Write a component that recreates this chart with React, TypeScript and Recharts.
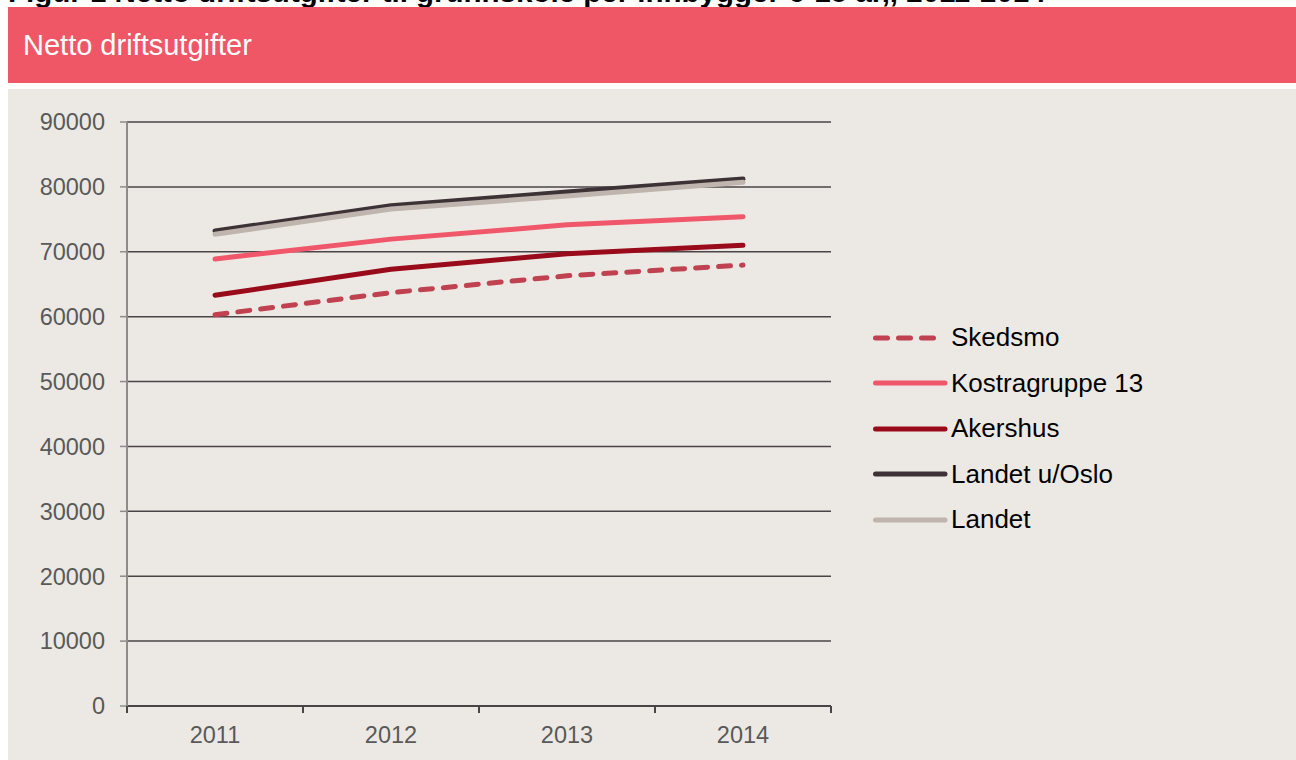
import { CartesianGrid, Line, LineChart, XAxis, YAxis } from "recharts";

const years = ["2011", "2012", "2013", "2014"];
const skedsmo = [60300, 63700, 66300, 67950];
const kostragruppe13 = [68900, 71950, 74150, 75400];
const akershus = [63300, 67300, 69700, 71000];
const landetUtenOslo = [73200, 77100, 79200, 81200];
const landet = [72700, 76600, 78600, 80700];
const yTicks = [0, 10000, 20000, 30000, 40000, 50000, 60000, 70000, 80000, 90000];

const FONT = '"Liberation Sans", Arial, Helvetica, sans-serif';
const GRID = "#4b4446";
const BAND_PAD = 88;

const series = [
  { key: "Skedsmo", values: skedsmo, color: "#c0414f", dash: "12 11" },
  { key: "Kostragruppe 13", values: kostragruppe13, color: "#f0576a" },
  { key: "Akershus", values: akershus, color: "#990a1b" },
  { key: "Landet u/Oslo", values: landetUtenOslo, color: "#3d3236" },
  { key: "Landet", values: landet, color: "#bfb4ae" },
];

const data = years.map((year, i) => {
  const row: Record<string, string | number> = { year };
  series.forEach((s) => {
    row[s.key] = s.values[i];
  });
  return row;
});

function YearTick(props: any) {
  const { x, y, payload, index } = props;
  const last = index === years.length - 1;
  return (
    <g>
      <line x1={x - BAND_PAD} y1={y} x2={x - BAND_PAD} y2={y + 7} stroke={GRID} strokeWidth={2} />
      {last && <line x1={x + BAND_PAD} y1={y} x2={x + BAND_PAD} y2={y + 7} stroke={GRID} strokeWidth={2} />}
      <text x={x} y={y + 37} textAnchor="middle" fill="#595959" fontSize={23.5} fontFamily={FONT}>
        {payload.value}
      </text>
    </g>
  );
}

// legend sits beside the plot, outside the chart so it doesn't shrink the plot area
function LegendBox() {
  return (
    <div style={{ position: "absolute", left: 865, top: 226, fontFamily: FONT }}>
      {series.map((s) => (
        <div key={s.key} style={{ display: "flex", alignItems: "center", height: 45.5 }}>
          <svg width={78} height={12} style={{ display: "block" }}>
            <line
              x1={2.5}
              y1={6}
              x2={s.dash ? 60.5 : 72}
              y2={6}
              stroke={s.color}
              strokeWidth={5}
              strokeLinecap="round"
              strokeDasharray={s.dash}
            />
          </svg>
          <span style={{ fontSize: 26, color: "#000", whiteSpace: "nowrap" }}>{s.key}</span>
        </div>
      ))}
    </div>
  );
}

export default function App() {
  return (
    <div
      style={{
        position: "fixed",
        left: 0,
        top: 0,
        width: 1296,
        height: 760,
        background: "#fff",
        overflow: "hidden",
        fontFamily: FONT,
      }}
    >
      <svg width={1296} height={8} style={{ position: "absolute", left: 0, top: 0 }}>
        <text x={8} y={2} fontSize={29.5} fontWeight={700} fill="#000" fontFamily={FONT}>
          Figur 1 Netto driftsutgifter til grunnskole per innbygger 6-15 år,, 2011-2014
        </text>
      </svg>
      <div style={{ position: "absolute", left: 8, top: 7, width: 1288, height: 76, background: "#f05766" }}>
        <svg width={1288} height={76} style={{ display: "block" }}>
          <text x={15} y={48} fontSize={29} fill="#fff" fontFamily={FONT}>
            Netto driftsutgifter
          </text>
        </svg>
      </div>
      <div style={{ position: "absolute", left: 8, top: 89, width: 1288, height: 671, background: "#ece9e4" }}>
        <LineChart width={1288} height={671} data={data} margin={{ top: 33, right: 465, left: 0, bottom: 14 }}>
          <CartesianGrid horizontal vertical={false} stroke={GRID} strokeWidth={1.5} />
          <XAxis
            dataKey="year"
            padding={{ left: BAND_PAD, right: BAND_PAD }}
            height={40}
            axisLine={{ stroke: GRID, strokeWidth: 2 }}
            tickLine={false}
            tickSize={0}
            tickMargin={0}
            interval={0}
            tick={<YearTick />}
          />
          <YAxis
            width={119}
            domain={[0, 90000]}
            ticks={yTicks}
            interval={0}
            axisLine={{ stroke: "#8c8c8c", strokeWidth: 2 }}
            tickLine={{ stroke: "#8c8c8c", strokeWidth: 1.5 }}
            tickSize={7}
            tickMargin={15}
            tick={{ fill: "#595959", fontSize: 23.5, fontFamily: FONT }}
          />
          {series.map((s) => (
            <Line
              key={s.key}
              dataKey={s.key}
              stroke={s.color}
              strokeWidth={5}
              strokeDasharray={s.dash}
              strokeLinecap="round"
              strokeLinejoin="round"
              dot={false}
              activeDot={false}
              isAnimationActive={false}
            />
          ))}
        </LineChart>
        <LegendBox />
      </div>
    </div>
  );
}
